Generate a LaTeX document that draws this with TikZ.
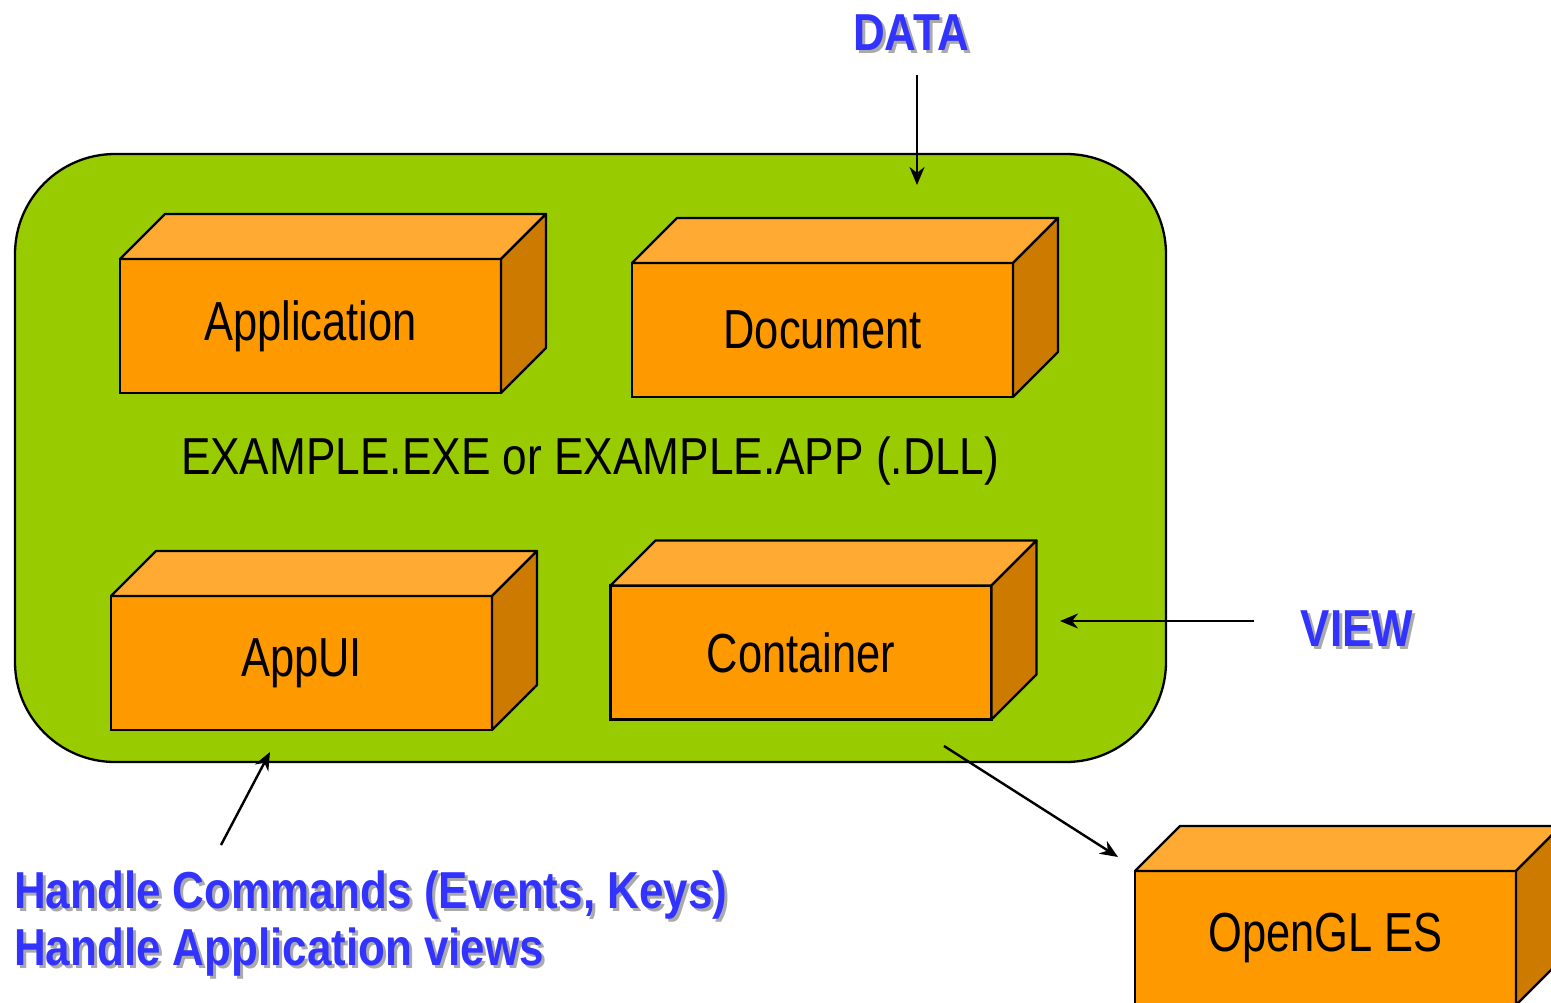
\documentclass[tikz,border=0pt]{standalone}
\usepackage{fontspec}
\setmainfont{Liberation Sans}[FakeStretch=0.79]
\newfontfamily\widefont{Liberation Sans}[FakeStretch=0.85]
\newfontfamily\labelfont{Liberation Sans Bold}[FakeStretch=0.845]
\usetikzlibrary{arrows.meta}
\definecolor{shellgreen}{RGB}{153,204,0}
\definecolor{boxfront}{RGB}{255,153,0}
\definecolor{boxtop}{RGB}{255,170,51}
\definecolor{boxside}{RGB}{204,122,0}
\definecolor{labelblue}{RGB}{51,51,255}
\definecolor{labelshadow}{RGB}{170,170,170}
\tikzset{
  frontface/.style={draw=black, fill=boxfront, line width=2.3pt, inner sep=0pt, outer sep=0pt,
    minimum width=381pt, minimum height=134pt, font=\fontsize{55}{60}\selectfont},
  topface/.style={draw=black, fill=boxtop, line width=2.3pt, line join=round},
  sideface/.style={draw=black, fill=boxside, line width=2.3pt, line join=round},
  bluetxt/.style={text=labelblue, inner sep=0pt, font=\labelfont\fontsize{52}{57}\selectfont, align=left},
  shadowtxt/.style={bluetxt, text=labelshadow},
  conn/.style={line width=2.4pt, -{Stealth[length=18pt, width=15pt]}},
}
% a cuboid: front face node plus its top and right faces
\newcommand{\cuboid}[4]{%
  \node[frontface] (#1) at (#2,#3) {#4};
  \path[topface] (#1.north west) -- ++(45,-45) -- ([shift={(45,-45)}]#1.north east) -- (#1.north east) -- cycle;
  \path[sideface] (#1.north east) -- ++(45,-45) -- ([shift={(45,-45)}]#1.south east) -- (#1.south east) -- cycle;
}
% a label set with a grey drop shadow
\newcommand{\shadowlabel}[4]{%
  \node[shadowtxt, #4] at ([shift={(3,3)}]#2) {#3};
  \node[bluetxt, #4] (#1) at (#2) {#3};
}
\begin{document}
\begin{tikzpicture}[x=1pt, y=-1pt]
\useasboundingbox (0,0) rectangle (1551,1002);
\begin{scope}
\clip (0,0) rectangle (1551,1002);
% component shell
\node[draw=black, fill=shellgreen, line width=2.3pt, rounded corners=100pt,
  minimum width=1151pt, minimum height=608pt, inner sep=0pt] (shell) at (590.5,458) {};
\node[font=\widefont\fontsize{52}{56}\selectfont, inner sep=0pt] (exe) at (590,461) {EXAMPLE.EXE or EXAMPLE.APP (.DLL)};

\cuboid{app}{310.5}{326}{Application}
\cuboid{doc}{822.5}{330}{Document}
\cuboid{appui}{301.5}{663}{AppUI}
\cuboid{cont}{801}{652.5}{Container}
\cuboid{gles}{1325.5}{938}{OpenGL ES}

% external labels
\shadowlabel{data}{911,33}{DATA}{anchor=center}
\shadowlabel{view}{1357,629}{VIEW}{anchor=center}
\shadowlabel{handle}{14,924}{Handle Commands (Events, Keys)\\Handle Application views}{anchor=west}

% connectors
\coordinate (dataend) at (917,185);
\coordinate (datastart) at (917,75);
\coordinate (viewstart) at (1254,621);
\coordinate (viewend) at (1060,621);
\coordinate (handlestart) at (221,845);
\coordinate (handleend) at (270,752);
\coordinate (glstart) at (944,746);
\coordinate (glend) at (1118,857);
\draw[conn] (datastart) -- (dataend);
\draw[conn] (viewstart) -- (viewend);
\draw[conn] (handlestart) -- (handleend);
\draw[conn] (glstart) -- (glend);
\end{scope}
\end{tikzpicture}
\end{document}
